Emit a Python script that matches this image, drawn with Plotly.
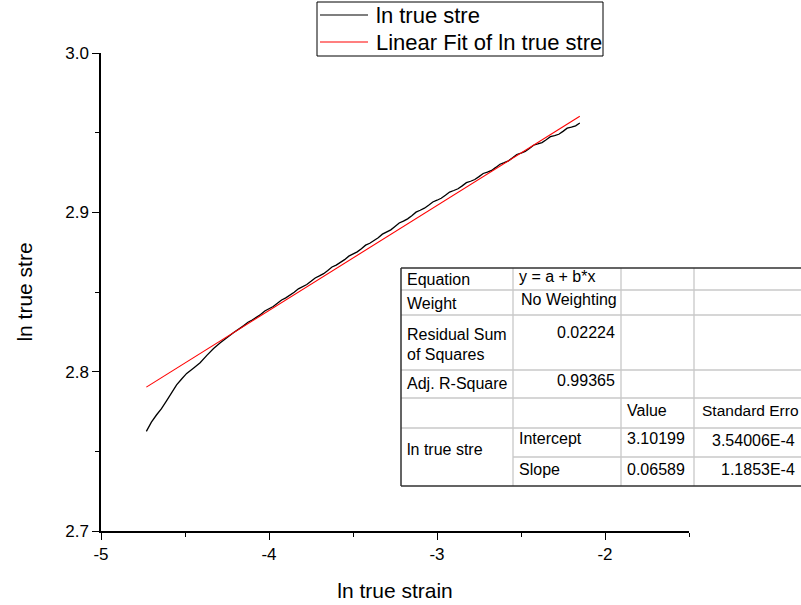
import plotly.graph_objects as go

# ---- data ----
strain = [-4.73, -4.70, -4.67, -4.64, -4.61, -4.58, -4.55, -4.52, -4.49, -4.45,
          -4.41, -4.37, -4.33, -4.29, -4.25, -4.21,
          -4.15, -4.125, -4.10, -4.075, -4.05, -4.025, -4.00, -3.975, -3.95, -3.925,
          -3.90, -3.875, -3.85, -3.825, -3.80, -3.775, -3.75, -3.725, -3.70, -3.675,
          -3.65, -3.625, -3.60, -3.575, -3.55, -3.525, -3.50, -3.475, -3.45, -3.425,
          -3.40, -3.375, -3.35, -3.325, -3.30, -3.275, -3.25, -3.225, -3.20, -3.175,
          -3.15, -3.125, -3.10, -3.075, -3.05, -3.025, -3.00, -2.975, -2.95, -2.925,
          -2.90, -2.875, -2.85, -2.825, -2.80, -2.775, -2.75, -2.725, -2.70, -2.675,
          -2.65, -2.625, -2.60, -2.575, -2.55, -2.525, -2.50, -2.475, -2.45, -2.425,
          -2.40, -2.375, -2.35, -2.325, -2.30, -2.275, -2.25, -2.225, -2.20, -2.175,
          -2.15]
stress = [2.7625, 2.7683, 2.7728, 2.7768, 2.7817, 2.7867, 2.7917, 2.7954, 2.7989, 2.8022,
          2.8056, 2.8102, 2.8145, 2.8181, 2.8214, 2.8246,
          2.8289, 2.8310, 2.8324, 2.8339, 2.8359, 2.8381, 2.8394, 2.8409, 2.8429, 2.8450,
          2.8463, 2.8478, 2.8498, 2.8520, 2.8532, 2.8547, 2.8567, 2.8588, 2.8601, 2.8615,
          2.8635, 2.8657, 2.8669, 2.8684, 2.8703, 2.8725, 2.8738, 2.8752, 2.8772, 2.8794,
          2.8806, 2.8821, 2.8841, 2.8863, 2.8876, 2.8890, 2.8911, 2.8933, 2.8945, 2.8959,
          2.8979, 2.9001, 2.9013, 2.9026, 2.9045, 2.9065, 2.9076, 2.9088, 2.9107, 2.9127,
          2.9137, 2.9148, 2.9166, 2.9186, 2.9195, 2.9206, 2.9224, 2.9244, 2.9253, 2.9263,
          2.9282, 2.9302, 2.9312, 2.9323, 2.9342, 2.9363, 2.9372, 2.9382, 2.9401, 2.9421,
          2.9429, 2.9438, 2.9456, 2.9475, 2.9482, 2.9490, 2.9508, 2.9528, 2.9535, 2.9543,
          2.9561]
fit_x = [-4.73, -2.15]
fit_y = [2.7903, 2.9603]

x_tickvals = [-5, -4, -3, -2]
x_ticktext = ["-5", "-4", "-3", "-2"]
y_tickvals = [2.7, 2.8, 2.9, 3.0]
y_ticktext = ["2.7", "2.8", "2.9", "3.0"]

series_names = ["ln true stre", "Linear Fit of ln true stre"]
table_rows = [
    ("Equation", "y = a + b*x"),
    ("Weight", "No Weighting"),
    ("Residual Sum", "0.02224"),
    ("Adj. R-Square", "0.99365"),
]
param_names = ["Intercept", "Slope"]
param_values = ["3.10199", "0.06589"]
param_errors = ["3.54006E-4", "1.1853E-4"]

FONT = "Liberation Sans, Arial, sans-serif"

# plot area in pixels
L, R, T, B = 101, 689, 53, 531
W, H = R - L, B - T


def px_x(X):
    return (X - L) / W


def px_y(Y):
    return (B - Y) / H


fig = go.Figure()
fig.add_trace(go.Scatter(x=strain, y=stress, mode="lines", name=series_names[0],
                         line=dict(color="black", width=1.3), showlegend=False))
fig.add_trace(go.Scatter(x=fit_x, y=fit_y, mode="lines", name=series_names[1],
                         line=dict(color="#ff0000", width=1.1), showlegend=False))

shapes = []
ann = []

# ---- legend drawn by hand (Origin style) ----
shapes.append(dict(type="rect", xref="paper", yref="paper", x0=px_x(317), x1=px_x(603),
                   y0=px_y(2), y1=px_y(56), line=dict(color="black", width=1), fillcolor="white"))
for Y, col in ((15, "black"), (42, "#ff0000")):
    shapes.append(dict(type="line", xref="paper", yref="paper", x0=px_x(320), x1=px_x(368),
                       y0=px_y(Y), y1=px_y(Y), line=dict(color=col, width=1.1)))
for name, Y in zip(series_names, (16, 42)):
    ann.append(dict(text=name, xref="paper", yref="paper", x=px_x(374), y=px_y(Y),
                    xanchor="left", yanchor="middle", showarrow=False,
                    font=dict(family=FONT, size=22, color="black")))

# ---- fit table ----
cols = [401, 513, 621, 694, 810]
rows = [268, 290, 315, 370, 398, 428, 457, 486]
grey = "#c8c8c8"
dark = "#303030"
for Y in rows[1:6]:
    shapes.append(dict(type="line", xref="paper", yref="paper", x0=px_x(cols[0]), x1=px_x(cols[-1]),
                       y0=px_y(Y), y1=px_y(Y), line=dict(color=grey, width=1.3)))
shapes.append(dict(type="line", xref="paper", yref="paper", x0=px_x(cols[1]), x1=px_x(cols[-1]),
                   y0=px_y(rows[6]), y1=px_y(rows[6]), line=dict(color=grey, width=1.3)))
for X in cols[1:4]:
    shapes.append(dict(type="line", xref="paper", yref="paper", x0=px_x(X), x1=px_x(X),
                       y0=px_y(rows[0]), y1=px_y(rows[-1]), line=dict(color=grey, width=1.3)))
for Y in (rows[0], rows[-1]):
    shapes.append(dict(type="line", xref="paper", yref="paper", x0=px_x(cols[0]), x1=px_x(cols[-1]),
                       y0=px_y(Y), y1=px_y(Y), line=dict(color=dark, width=1.5)))
shapes.append(dict(type="line", xref="paper", yref="paper", x0=px_x(cols[0]), x1=px_x(cols[0]),
                   y0=px_y(rows[0]), y1=px_y(rows[-1]), line=dict(color=dark, width=1.5)))


def txt(s, X, Y, anchor="left", size=16):
    ann.append(dict(text=s, xref="paper", yref="paper", x=px_x(X), y=px_y(Y),
                    xanchor=anchor, yanchor="middle", showarrow=False,
                    font=dict(family=FONT, size=size, color="black")))


txt(table_rows[0][0], 405, 279)
txt(table_rows[0][1], 517, 276)
txt(table_rows[1][0], 405, 303)
txt(table_rows[1][1], 619, 299, "right")
txt(table_rows[2][0], 405, 335)
txt("of Squares", 405, 355)
txt(table_rows[2][1], 617, 332, "right")
txt(table_rows[3][0], 405, 383)
txt(table_rows[3][1], 617, 380, "right")
txt("Value", 625, 410)
txt("Standard Erro", 700, 410, size=15.5)
txt(param_names[0], 517, 438)
txt(param_values[0], 625, 438)
txt(param_errors[0], 797, 440, "right")
txt("ln true stre", 405, 449)
txt(param_names[1], 517, 469)
txt(param_values[1], 625, 469)
txt(param_errors[1], 797, 469, "right")

axis_common = dict(showline=True, linecolor="black", linewidth=1.5, ticks="outside",
                   ticklen=7, tickwidth=1.3, tickcolor="black", showgrid=False, zeroline=False,
                   tickfont=dict(family=FONT, size=17, color="black"))

fig.update_layout(
    width=801, height=605,
    margin=dict(l=L, r=801 - R, t=T, b=605 - B, pad=0, autoexpand=False),
    paper_bgcolor="white", plot_bgcolor="white",
    font=dict(family=FONT, color="black"),
    showlegend=False,
    xaxis=dict(range=[-5, -1.5], tickvals=x_tickvals, ticktext=x_ticktext,
               minor=dict(ticks="outside", ticklen=4, tickwidth=1.3, tickcolor="black", dtick=0.5,
                          tick0=-5),
               title=dict(text="ln true strain", font=dict(family=FONT, size=21), standoff=20),
               **axis_common),
    yaxis=dict(range=[2.7, 3.0], tickvals=y_tickvals, ticktext=y_ticktext,
               minor=dict(ticks="outside", ticklen=4, tickwidth=1.3, tickcolor="black", dtick=0.05,
                          tick0=2.7),
               title=dict(text="ln true stre", font=dict(family=FONT, size=21), standoff=27),
               **axis_common),
    shapes=shapes,
    annotations=ann,
)

fig.write_html("out.html", config={"displayModeBar": False},
               post_script="document.body.style.margin='0';document.body.style.overflow='hidden';")
